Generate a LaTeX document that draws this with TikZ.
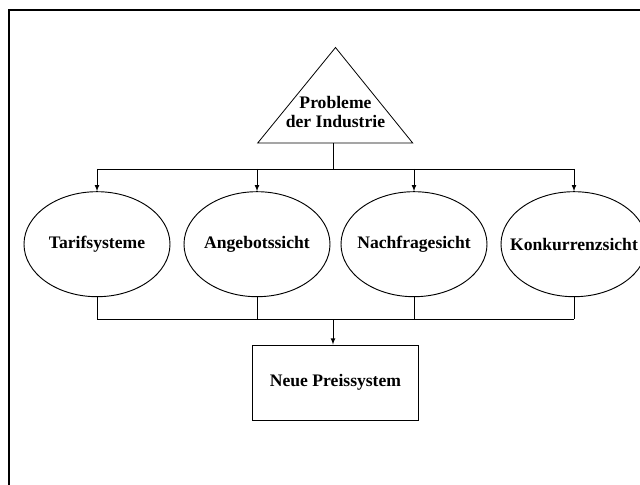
\documentclass[tikz,border=0pt]{standalone}
\usepackage{fontspec}
\setmainfont{Liberation Serif}
\usetikzlibrary{arrows,shapes.geometric}

\begin{document}
\begin{tikzpicture}[x=0.75pt,y=-0.75pt,>=latex,
  schrift/.style={font=\fontsize{13.2}{14}\selectfont\bfseries,align=center},
  sicht/.style={draw,ellipse,line width=0.7pt,minimum width=109.5pt,minimum height=78.75pt,inner sep=0pt,
    label={[schrift]center:#1}},
  kasten/.style={draw,line width=0.7pt,minimum width=124.2pt,minimum height=56.25pt,inner sep=0pt}]

\useasboundingbox (0,0) rectangle (640,485);
\draw[line width=1.7pt] (8.8,485) -- (8.8,10) -- (640,10);

% Dreieck oben
\coordinate (spitze) at (335.5,47.5);
\coordinate (links) at (257.7,143);
\coordinate (rechts) at (412.7,143);
\coordinate (fuss) at (333,143);
\draw[line width=0.6pt] (spitze) -- (links) -- (rechts) -- cycle;
\node[schrift] (problem) at (335.5,112) {Probleme\\der Industrie};

\node[sicht=Tarifsysteme] (tarif) at (97,244.2) {};
\node[sicht=Angebotssicht] (angebot) at (257,244.2) {};
\node[sicht=Nachfragesicht] (nachfrage) at (414,244.2) {};
\node[sicht=Konkurrenzsicht] (konkurrenz) at (574,244.2) {};

\node[kasten,schrift] (preis) at (335.5,382.5) {Neue Preissystem};

\coordinate (oben) at (333,169);
\coordinate (unten) at (333,319.3);

\draw[line width=0.6pt] (fuss) -- (oben);
\draw[line width=0.6pt] (tarif |- oben) -- (konkurrenz |- oben);
\foreach \s in {tarif,angebot,nachfrage,konkurrenz}{
	\draw[->,line width=0.6pt] (\s |- oben) -- (\s.north);
	\draw[line width=0.6pt] (\s.south) -- (\s |- unten);
}
\draw[line width=0.6pt] (tarif |- unten) -- (konkurrenz |- unten);
\draw[->,line width=0.6pt] (unten) -- (unten |- preis.north);

\end{tikzpicture}
\end{document}
